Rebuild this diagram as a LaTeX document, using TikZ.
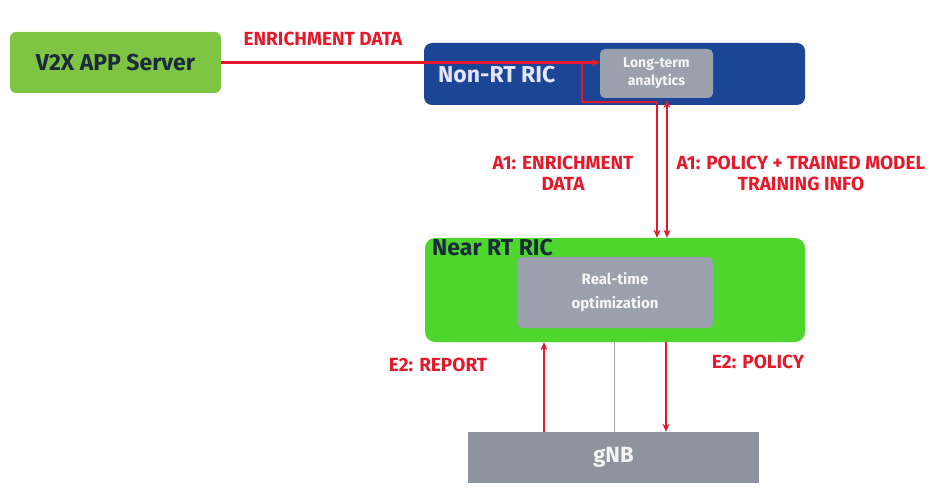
\documentclass[tikz,border=0pt]{standalone}
\usepackage{fontspec}
\setmainfont{Fira Sans}
\usetikzlibrary{arrows.meta}
\definecolor{appgreen}{HTML}{7FC443}
\definecolor{ricgreen}{HTML}{4ED52E}
\definecolor{ricblue}{HTML}{1C4695}
\definecolor{boxgray}{HTML}{9AA0AC}
\definecolor{gnbgray}{HTML}{8E939D}
\definecolor{darktext}{HTML}{1B2B3B}
\definecolor{flowred}{HTML}{E5192A}
\tikzset{
  box/.style={rectangle, draw=none, inner sep=0pt, align=center},
  flow/.style={draw=flowred, line width=2.2pt, -{Stealth[length=8pt,width=7pt]}},
  flowlabel/.style={text=flowred, font=\bfseries\fontsize{19}{21}\selectfont, align=center, inner sep=0pt},
  title/.style={font=\bfseries\fontsize{23}{26}\selectfont, inner sep=0pt},
  inner/.style={box, fill=boxgray, rounded corners=5pt, text=white!92!gray}
}
\begin{document}
\begin{tikzpicture}[x=1pt,y=-1pt]
  \useasboundingbox (0,0) rectangle (935,497);

  % boxes
  \node[box, fill=appgreen, rounded corners=6pt, minimum width=211pt, minimum height=61pt,
        text=darktext, font=\bfseries\fontsize{23}{26}\selectfont] (v2x) at (115.5,62.5) {V2X APP Server};
  \node[box, fill=ricblue, rounded corners=8pt, minimum width=381pt, minimum height=62pt] (nonrt) at (614.5,74) {};
  \node[title, text=white!90!blue, anchor=west] (nonrtlabel) at (438,75) {Non-RT RIC};
  \node[inner, minimum width=113pt, minimum height=49pt,
        font=\bfseries\fontsize{14}{18}\selectfont] (lta) at (656.5,73.5) {Long-term\\analytics};

  \node[box, fill=ricgreen, rounded corners=10pt, minimum width=380pt, minimum height=104pt] (nearrt) at (615,290) {};
  \node[title, text=darktext, anchor=west] (nearrtlabel) at (432,248) {Near RT RIC};
  \node[inner, minimum width=196pt, minimum height=71pt,
        font=\bfseries\fontsize{15}{24}\selectfont] (rto) at (615,292.5) {Real-time\\optimization};

  \node[box, fill=gnbgray, minimum width=291pt, minimum height=51pt, text=white!92!gray,
        font=\bfseries\fontsize{22}{24}\selectfont] (gnb) at (613.5,457.5) {gNB};

  % connector waypoints
  \coordinate (split) at (582,62.5);
  \coordinate (bend) at (582,102);
  \coordinate (a1down) at (657,102);
  \coordinate (a1both) at (667,100);
  \coordinate (e2up) at (544,0);
  \coordinate (e2mid) at (614,0);
  \coordinate (e2down) at (666,0);

  % enrichment data into the Non-RT RIC
  \draw[flow] (v2x.east) -- (v2x.east -| lta.west);
  \draw[flow] (split) -- (bend) -- (a1down) -- (a1down |- nearrt.north);
  \draw[flow, {Stealth[length=8pt,width=7pt]}-{Stealth[length=8pt,width=7pt]}]
    (a1both) -- (a1both |- nearrt.north);

  % E2 interface
  \draw[flow] (e2up |- gnb.north) -- (e2up |- nearrt.south);
  \draw[gray!70, line width=0.8pt] (e2mid |- nearrt.south) -- (e2mid |- gnb.north);
  \draw[flow] (e2down |- nearrt.south) -- (e2down |- gnb.north);

  % labels
  \node[flowlabel] (lenrich) at (323,39) {ENRICHMENT DATA};
  \node[flowlabel] (la1data) at (563,173) {A1: ENRICHMENT\\DATA};
  \node[flowlabel] (la1policy) at (801,173) {A1: POLICY + TRAINED MODEL\\TRAINING INFO};
  \node[flowlabel] (le2report) at (438,365) {E2: REPORT};
  \node[flowlabel] (le2policy) at (758,362) {E2: POLICY};
\end{tikzpicture}
\end{document}
